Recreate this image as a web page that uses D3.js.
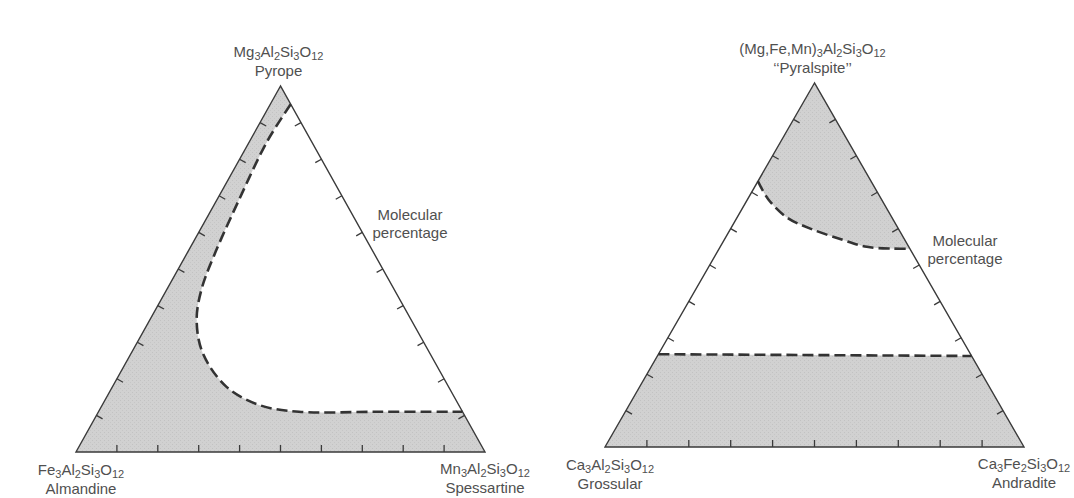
<!DOCTYPE html>
<html lang="en">
<head>
<meta charset="utf-8">
<title>Garnet ternary diagrams</title>
<script src="https://cdn.jsdelivr.net/npm/d3@7"></script>
<style>
  body, html { margin: 0; background: #fff; }
  svg { display: block; }
  text { font-family: "Liberation Sans", Arial, sans-serif; fill: #505050; font-size: 15px; }
</style>
</head>
<body>
<svg width="1074" height="498"></svg>
<script>
// every point is [top, bottom-left, bottom-right] in molecular percent
var tickValues = [10, 20, 30, 40, 50, 60, 70, 80, 90];

// left diagram: pyrope - almandine - spessartine
var leftFormulas = ["Mg_3Al_2Si_3O_12", "Fe_3Al_2Si_3O_12", "Mn_3Al_2Si_3O_12"];
var leftNames = ["Pyrope", "Almandine", "Spessartine"];
var leftBoundary = [
  [95, 0, 5], [85, 10.7, 4.3], [68.9, 25.7, 5.4], [54.1, 39.9, 7], [44.3, 47.2, 8.5],
  [36, 52.5, 11.5], [27, 55.5, 17.5], [17.8, 54.3, 27.9], [12.8, 48.7, 38.5],
  [11, 40, 49], [11, 20, 69], [11, 0, 89]
];

// right diagram: pyralspite - grossular - andradite
var rightFormulas = ["(Mg,Fe,Mn)_3Al_2Si_3O_12", "Ca_3Al_2Si_3O_12", "Ca_3Fe_2Si_3O_12"];
var rightNames = ["\u2018\u2018Pyralspite\u2019\u2019", "Grossular", "Andradite"];
var rightUpperBoundary = [
  [73, 27, 0], [68, 27, 5], [63, 25, 12], [60, 21, 19], [57, 15, 28],
  [55, 10, 35], [54.5, 4, 41.5], [54.5, 0, 45.5]
];
var rightLowerBoundary = [[25.5, 74.5, 0], [25, 0, 75]];

var sideLabel = ["Molecular", "percentage"];

var svg = d3.select("svg");

// fine stipple like the printed screen
var pat = svg.append("defs").append("pattern")
  .attr("id", "screen").attr("patternUnits", "userSpaceOnUse")
  .attr("width", 4).attr("height", 4);
pat.append("rect").attr("width", 4).attr("height", 4).attr("fill", "#d1d1d1");
pat.append("rect").attr("x", 0).attr("y", 0).attr("width", 1).attr("height", 1).attr("fill", "#c2c2c2");
pat.append("rect").attr("x", 2).attr("y", 2).attr("width", 1).attr("height", 1).attr("fill", "#c6c6c6");

function makeTernary(box) {
  var x = d3.scaleLinear().domain([0, 1]).range([box.x0, box.x1]);
  var y = d3.scaleLinear().domain([0, 1]).range([box.yb, box.yt]);
  var proj = function(d) {
    var s = d[0] + d[1] + d[2];
    var t = d[0] / s, r = d[2] / s;
    return [x(r + t / 2), y(t)];
  };
  return {x: x, y: y, proj: proj};
}

function formulaText(sel, str) {
  var parts = str.split(/_(\d+)/);
  parts.forEach(function(p, i) {
    if (p === "") return;
    if (i % 2 === 1) {
      sel.append("tspan").attr("dy", 3).attr("font-size", 11).text(p);
    } else {
      var t = sel.append("tspan").text(p);
      if (i > 0) t.attr("dy", -3);
    }
  });
}

// sample the Catmull-Rom curve so it can close a filled polygon
function curvePoints(pts) {
  var tmp = svg.append("path")
    .attr("d", d3.line().curve(d3.curveCatmullRom.alpha(0.5))(pts));
  var node = tmp.node(), L = node.getTotalLength(), out = [];
  for (var i = 0; i <= 200; i++) {
    var p = node.getPointAtLength(L * i / 200);
    out.push([p.x, p.y]);
  }
  tmp.remove();
  return out;
}

function drawDiagram(box, formulas, names, regions, dashes, labelPos) {
  var tern = makeTernary(box);
  var g = svg.append("g");
  var top = tern.proj([100, 0, 0]), bl = tern.proj([0, 100, 0]), br = tern.proj([0, 0, 100]);

  // shaded fields: listed corners, then along the dashed boundary
  regions.forEach(function(r) {
    var pts = r.corners.map(tern.proj).concat(curvePoints(r.curve.map(tern.proj)));
    g.append("path")
      .attr("d", d3.line()(pts) + "Z")
      .attr("fill", "url(#screen)");
  });

  // triangle outline
  g.append("path")
    .attr("d", d3.line()([top, bl, br]) + "Z")
    .attr("fill", "none")
    .attr("stroke", "#3a3a3a")
    .attr("stroke-width", 1.4);

  // ticks on all three sides, pointing inward
  var centroid = [(top[0] + bl[0] + br[0]) / 3, (top[1] + bl[1] + br[1]) / 3];
  [[top, bl], [bl, br], [br, top]].forEach(function(side) {
    var a = side[0], b = side[1];
    var dx = b[0] - a[0], dy = b[1] - a[1], len = Math.hypot(dx, dy);
    var nx = -dy / len, ny = dx / len;
    var mx = (a[0] + b[0]) / 2, my = (a[1] + b[1]) / 2;
    if ((centroid[0] - mx) * nx + (centroid[1] - my) * ny < 0) { nx = -nx; ny = -ny; }
    tickValues.forEach(function(v) {
      var px = a[0] + dx * v / 100, py = a[1] + dy * v / 100;
      g.append("line")
        .attr("x1", px).attr("y1", py)
        .attr("x2", px + nx * 7).attr("y2", py + ny * 7)
        .attr("stroke", "#3a3a3a")
        .attr("stroke-width", 1.3);
    });
  });

  // dashed boundaries
  dashes.forEach(function(c) {
    g.append("path")
      .attr("d", d3.line().curve(d3.curveCatmullRom.alpha(0.5))(c.map(tern.proj)))
      .attr("fill", "none")
      .attr("stroke", "#333")
      .attr("stroke-width", 2.6)
      .attr("stroke-dasharray", "11,5");
  });

  // corner labels
  [top, bl, br].forEach(function(c, i) {
    var lp = labelPos[i];
    var t1 = g.append("text").attr("text-anchor", "middle")
      .attr("x", c[0] + lp.dx).attr("y", c[1] + lp.dy1);
    formulaText(t1, formulas[i]);
    g.append("text").attr("text-anchor", "middle")
      .attr("x", c[0] + lp.dx).attr("y", c[1] + lp.dy2)
      .text(names[i]);
  });

  // side label
  sideLabel.forEach(function(s, i) {
    g.append("text").attr("text-anchor", "middle")
      .attr("x", box.labelX).attr("y", box.labelY + i * 18)
      .text(s);
  });
}

var leftBox = {x0: 76, x1: 485, yb: 452, yt: 86, labelX: 410, labelY: 220};
var rightBox = {x0: 605, x1: 1024, yb: 447, yt: 83, labelX: 965, labelY: 246};

var labelPos = [
  {dx: -2, dy1: -29, dy2: -10},
  {dx: 5, dy1: 23, dy2: 42},
  {dx: 0, dy1: 22, dy2: 41}
];

drawDiagram(leftBox, leftFormulas, leftNames,
  [{corners: [[100, 0, 0], [0, 100, 0], [0, 0, 100]],
    curve: leftBoundary.slice().reverse()}],
  [leftBoundary], labelPos);

drawDiagram(rightBox, rightFormulas, rightNames,
  [{corners: [[100, 0, 0]], curve: rightUpperBoundary},
   {corners: [[0, 100, 0], [0, 0, 100]], curve: rightLowerBoundary.slice().reverse()}],
  [rightUpperBoundary, rightLowerBoundary], labelPos);
</script>
</body>
</html>
